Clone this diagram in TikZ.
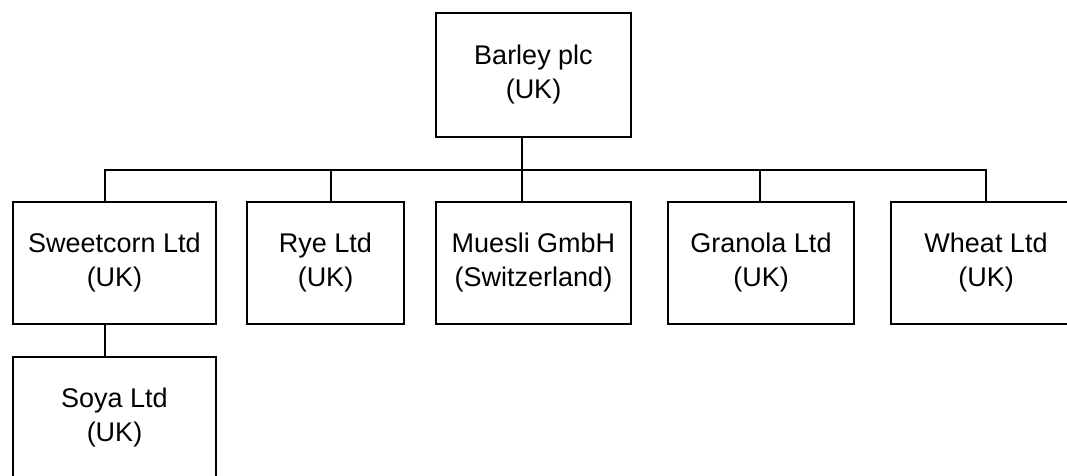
\documentclass[tikz,border=0pt]{standalone}
\usepackage{fontspec}
\setmainfont{Liberation Sans}
\begin{document}
\begin{tikzpicture}[x=1pt,y=-1pt,
  orgbox/.style={draw=black,line width=2.7pt,rectangle,inner sep=0pt,outer sep=0pt,
    minimum height=122pt,align=center,
    font=\fontsize{27}{34}\selectfont},
  conn/.style={draw=black,line width=2.7pt}]
\useasboundingbox (0,0) rectangle (1067,476);
\node[orgbox,minimum width=195pt,minimum height=124pt] (barley) at (533.5,75) {Barley plc\\(UK)};
\node[orgbox,minimum width=203pt] (sweet) at (114.5,263) {Sweetcorn Ltd\\(UK)};
\node[orgbox,minimum width=157pt] (rye) at (325.5,263) {Rye Ltd\\(UK)};
\node[orgbox,minimum width=195pt] (muesli) at (533.5,263) {Muesli GmbH\\(Switzerland)};
\node[orgbox,minimum width=186pt] (granola) at (761,263) {Granola Ltd\\(UK)};
\node[orgbox,minimum width=190pt] (wheat) at (986,263) {Wheat Ltd\\(UK)};
\node[orgbox,minimum width=203pt] (soya) at (114.5,418) {Soya Ltd\\(UK)};
\coordinate (xS) at (105,170);
\coordinate (xR) at (331,170);
\coordinate (xM) at (522,170);
\coordinate (xG) at (760,170);
\coordinate (xW) at (986,170);
\draw[conn] (xM |- barley.south) -- (xM);
\draw[conn,line join=miter] (xS |- sweet.north) -- (xS) -- (xW) -- (xW |- wheat.north);
\draw[conn] (xR) -- (xR |- rye.north);
\draw[conn] (xM) -- (xM |- muesli.north);
\draw[conn] (xG) -- (xG |- granola.north);
\draw[conn] (xS |- sweet.south) -- (xS |- soya.north);
\end{tikzpicture}
\end{document}
